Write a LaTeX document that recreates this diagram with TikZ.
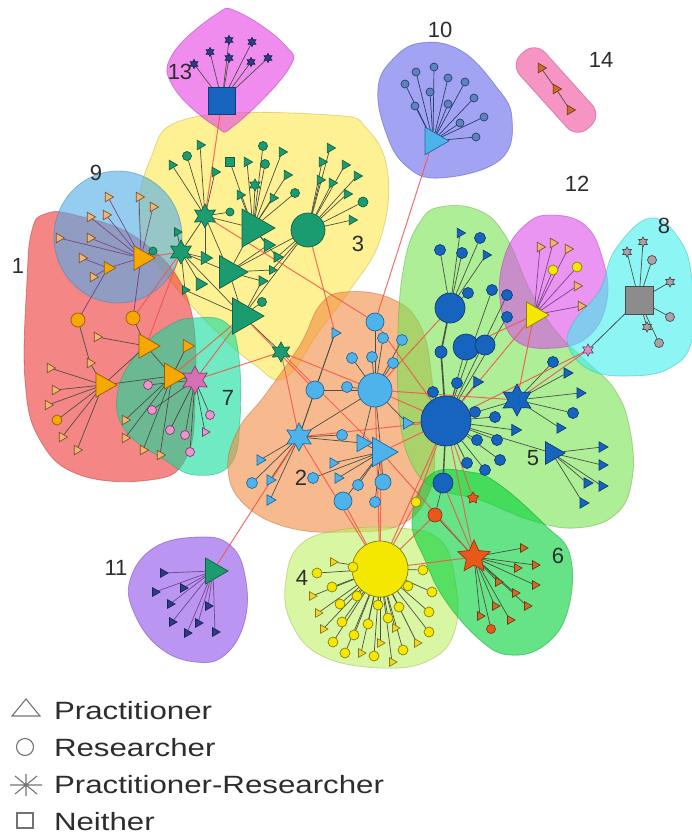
\documentclass[tikz,border=0pt]{standalone}
\usepackage{fontspec}
\setmainfont{Liberation Sans}
\usepackage{graphicx}
\usetikzlibrary{shapes.geometric}
\pgfdeclarelayer{blobs}
\pgfdeclarelayer{edges}
\pgfsetlayers{blobs,edges,main}
% node colours
\definecolor{cG}{RGB}{27,155,112}\definecolor{cGd}{RGB}{20,95,70}
\definecolor{cLB}{RGB}{77,179,234}\definecolor{cLBd}{RGB}{35,105,155}
\definecolor{cB}{RGB}{22,100,190}\definecolor{cBd}{RGB}{15,60,120}
\definecolor{cO}{RGB}{246,168,0}\definecolor{cOd}{RGB}{140,95,20}
\definecolor{cY}{RGB}{245,232,0}\definecolor{cYd}{RGB}{135,125,20}
\definecolor{cR}{RGB}{232,88,26}\definecolor{cRd}{RGB}{150,50,20}
\definecolor{cP}{RGB}{216,110,180}\definecolor{cPd}{RGB}{130,60,110}
\definecolor{cPl}{RGB}{232,150,205}
\definecolor{cGr}{RGB}{140,140,140}\definecolor{cGrd}{RGB}{75,75,75}
\definecolor{cGrl}{RGB}{175,160,165}
\definecolor{cTan}{RGB}{238,182,112}\definecolor{cTand}{RGB}{130,80,40}
\definecolor{cNv}{RGB}{45,60,135}\definecolor{cNvd}{RGB}{25,35,80}
\definecolor{cSl}{RGB}{95,130,190}\definecolor{cSld}{RGB}{40,60,110}
\definecolor{cBr}{RGB}{205,110,40}\definecolor{cBrd}{RGB}{115,55,20}
\definecolor{cStp}{RGB}{205,150,185}
% blob colours
\definecolor{b13}{RGB}{232,63,229}
\definecolor{b3}{RGB}{252,232,75}
\definecolor{b9}{RGB}{78,171,232}
\definecolor{b1}{RGB}{238,54,54}
\definecolor{b7}{RGB}{17,220,155}
\definecolor{b2}{RGB}{242,140,66}
\definecolor{b4}{RGB}{192,240,100}
\definecolor{b6}{RGB}{0,208,54}
\definecolor{b5}{RGB}{118,226,82}
\definecolor{b12}{RGB}{220,78,232}
\definecolor{b8}{RGB}{66,238,238}
\definecolor{b10}{RGB}{102,102,235}
\definecolor{b14}{RGB}{240,78,155}
\definecolor{b11}{RGB}{140,78,232}
\definecolor{cE}{RGB}{75,80,65}
\definecolor{cX}{RGB}{240,85,75}
\definecolor{cPu}{RGB}{120,70,140}
\definecolor{cLg}{RGB}{115,115,115}
\definecolor{cTx}{RGB}{45,45,45}
\tikzset{
  every node/.style={inner sep=0pt, outer sep=0pt, line width=0.7pt},
  ntri/.style={regular polygon, regular polygon sides=3, shape border rotate=-90, minimum size=#1},
  ncirc/.style={circle, minimum size=#1},
  nsq/.style={rectangle, minimum size=#1},
  nstar/.style={star, star points=6, star point ratio=1.8, minimum size=#1},
  colG/.style={fill=cG, draw=cGd},
  colLB/.style={fill=cLB, draw=cLBd},
  colB/.style={fill=cB, draw=cBd},
  colO/.style={fill=cO, draw=cOd},
  colY/.style={fill=cY, draw=cYd},
  colYt/.style={fill=cY!60!cTan, draw=cYd},
  colR/.style={fill=cR, draw=cRd},
  colP/.style={fill=cP, draw=cPd},
  colPl/.style={fill=cPl, draw=cPd},
  colGr/.style={fill=cGr, draw=cGrd},
  colGrl/.style={fill=cGrl, draw=cGrd},
  colTan/.style={fill=cTan, draw=cTand},
  colNv/.style={fill=cNv, draw=cNvd},
  colSl/.style={fill=cSl, draw=cSld},
  colBr/.style={fill=cBr, draw=cBrd},
  lnk/.style={draw=cE, line width=0.7pt},
  plnk/.style={draw=cPu, line width=0.7pt},
  slnk/.style={draw=cSld, line width=0.7pt},
  xlnk/.style={draw=cX, line width=1pt, draw opacity=0.85},
  blob/.style={fill=#1, fill opacity=0.6, draw=#1!75!black, draw opacity=0.45, line width=0.8pt},
  lbl/.style={font=\fontsize{22}{26}\selectfont, text=cTx},
  ltxt/.style={anchor=base west, font=\fontsize{25}{30}\selectfont, text=cTx},
  lgsym/.style={draw=cLg, line width=1.1pt},
}
% fan: links from hub #2 to leaves #3<1..#4>, style #1
\newcommand\fan[4][lnk]{\foreach \k in {1,...,#4} {\draw[#1] (#2) -- (#3\k);}}
\begin{document}
\begin{tikzpicture}[x=1pt,y=-1pt]
\useasboundingbox (0,0) rectangle (692,840);
% ---------------- blobs
\begin{pgfonlayer}{blobs}
\path[blob=b3] plot[smooth cycle,tension=0.7] coordinates {(190,118)(330,115)(368,130)(388,175)(380,240)(350,290)(320,330)(285,378)(255,365)(215,330)(170,280)(140,230)(150,160)};
\path[blob=b1] plot[smooth cycle,tension=0.7] coordinates {(45,214)(75,215)(140,240)(188,300)(195,400)(185,460)(150,480)(80,475)(40,440)(25,380)(27,280)(32,230)};
\path[blob=b9] (118,237) ellipse [x radius=64, y radius=66];
\path[blob=b7] plot[smooth cycle,tension=0.7] coordinates {(195,318)(225,322)(238,350)(240,420)(230,465)(195,475)(165,460)(125,430)(118,390)(140,350)(170,325)};
\path[blob=b2] plot[smooth cycle,tension=0.7] coordinates {(345,292)(390,298)(420,325)(432,380)(435,450)(428,495)(400,525)(350,532)(290,528)(245,505)(228,470)(238,430)(265,395)(300,345)(320,305)};
\path[blob=b5] plot[smooth cycle,tension=0.7] coordinates {(440,207)(478,210)(505,235)(530,290)(555,330)(585,360)(615,390)(630,430)(632,480)(615,515)(575,528)(530,520)(480,500)(440,490)(415,470)(400,420)(398,330)(405,260)(420,222)};
\path[blob=b4] plot[smooth cycle,tension=0.7] coordinates {(300,545)(340,530)(400,528)(440,540)(455,580)(455,630)(430,660)(380,668)(320,655)(290,620)(286,580)};
\path[blob=b6] plot[smooth cycle,tension=0.7] coordinates {(430,475)(470,472)(500,485)(545,525)(570,555)(568,610)(545,645)(510,655)(480,640)(445,600)(425,560)(412,520)};
\path[blob=b12] plot[smooth cycle,tension=0.7] coordinates {(550,215)(585,225)(603,260)(607,300)(590,335)(555,348)(515,340)(500,300)(505,255)(525,225)};
\path[blob=b8] plot[smooth cycle,tension=0.7] coordinates {(650,218)(680,240)(692,280)(692,340)(670,368)(630,376)(590,370)(568,345)(575,320)(600,290)(615,250)};
\path[blob=b10] plot[smooth cycle,tension=0.7] coordinates {(420,43)(460,50)(495,85)(512,118)(500,160)(440,178)(405,165)(385,130)(378,88)(392,60)};
\path[blob=b13] plot[smooth cycle,tension=0.7] coordinates {(238,12)(285,45)(288,70)(235,125)(215,126)(174,88)(172,55)(215,15)};
\path[blob=b14, shift={(556,90)}, rotate=-48, rounded corners=15] (-50,-17) rectangle (50,17);
\path[blob=b11] plot[smooth cycle,tension=0.7] coordinates {(200,537)(230,545)(245,575)(245,620)(225,655)(195,662)(160,648)(135,615)(130,580)(155,547)};
\end{pgfonlayer}
% ================= NODES
% cluster 13
\node[nsq=27, colB] (q13) at (222,101) {};
\foreach \x/\y [count=\i] in {210/52,229/40,252/42,229/58,251/62,268/58,194/64}
  {\node[nstar=9,colNv] (q13L\i) at (\x,\y) {};}
% cluster 10
\node[ntri=32, colLB] (t10) at (433,141) {};
\foreach \x/\y [count=\i] in {405/84,416/72,434/67,448/78,465/82,474/98,484/117,476/137,430/92,448/104,415/106,460/123}
  {\node[ncirc=8,colSl] (t10L\i) at (\x,\y) {};}
% cluster 14
\node[ntri=11, colBr] (n14a) at (541,68) {};
\node[ntri=11, colBr] (n14b) at (556,89) {};
\node[ntri=11, colBr] (n14c) at (570,110) {};
% cluster 12
\node[ntri=30, colY] (t12) at (534,315) {};
\foreach \x/\y [count=\i] in {540/247,553/243,568/249,577/286,581/306}
  {\node[ntri=11,colTan] (t12T\i) at (\x,\y) {};}
\foreach \x/\y [count=\i] in {553/270,577/267}
  {\node[ncirc=10,colY] (t12C\i) at (\x,\y) {};}
% cluster 8
\node[nsq=28, colGr] (q8) at (639,300) {};
\foreach \x/\y [count=\i] in {627/252,643/242,670/282,647/327}
  {\node[nstar=10,colGrl] (q8S\i) at (\x,\y) {};}
\foreach \x/\y [count=\i] in {652/260,670/317,659/343}
  {\node[ncirc=9,colGrl] (q8C\i) at (\x,\y) {};}
\node[nstar=12, fill=cStp, draw=cPd] (st8) at (588,350) {};
% cluster 3
\node[nstar=24, colG] (s3a) at (205,216) {};
\node[nstar=24, colG] (s3b) at (181,252) {};
\node[ntri=44, colG] (t3a) at (253,228) {};
\node[ncirc=34, colG] (c3) at (308,230) {};
\node[ntri=38, colG] (t3b) at (229,272) {};
\node[ntri=42, colG] (t3c) at (243,316) {};
\node[nstar=20, colG] (s3c) at (281,352) {};
\node[ntri=15, colG] (m3a) at (205,258) {};
\node[ntri=15, colG] (m3b) at (200,284) {};
\node[ntri=15, colG] (m3c) at (268,245) {};
\node[ntri=12, colG] (m3d) at (277,257) {};
\node[ntri=12, colG] (m3e) at (262,281) {};
\node[ncirc=8, colG] (m3f) at (230,212) {};
\node[ncirc=9, colG] (m3g) at (262,302) {};
\node[ntri=10, colG] (m3h) at (177,232) {};
\node[ntri=10, colG] (m3i) at (185,290) {};
\node[ntri=10, colG] (m3j) at (272,270) {};
\foreach \x/\y [count=\i] in {172/165,200/145,215/172}
  {\node[ntri=11,colG] (s3aT\i) at (\x,\y) {};}
\node[ncirc=9,colG] (s3aC) at (187,156) {};
\foreach \x/\y [count=\i] in {247/162,282/152,287/175,273/198,240/195}
  {\node[ntri=11,colG] (t3aT\i) at (\x,\y) {};}
\foreach \x/\y [count=\i] in {263/146,265/164,295/193}
  {\node[ncirc=9,colG] (t3aC\i) at (\x,\y) {};}
\node[nsq=9,colG] (t3aQ) at (230,162) {};
\node[nstar=12,colG] (t3aS) at (255,185) {};
\foreach \x/\y [count=\i] in {330/148,322/162,345/165,332/183,357/176,347/194,352/220,320/180}
  {\node[ntri=11,colG] (c3T\i) at (\x,\y) {};}
\node[ncirc=10,colG] (c3C) at (363,202) {};
% cluster 9
\node[ntri=28, colO] (t9) at (141,258) {};
\node[ntri=15, colO] (t9b) at (108,268) {};
\foreach \x/\y [count=\i] in {108/197,139/197,153/207,90/217,106/215,59/238,90/238}
  {\node[ntri=11,colTan] (t9T\i) at (\x,\y) {};}
\foreach \x/\y [count=\i] in {82/258,93/277}
  {\node[ntri=11,colTan] (t9bT\i) at (\x,\y) {};}
\node[ncirc=8,colG] (t9C) at (153,251) {};
% cluster 1
\node[ncirc=14, colO] (c1a) at (78,320) {};
\node[ncirc=14, colO] (c1b) at (133,318) {};
\node[ntri=28, colO] (t1a) at (146,346) {};
\node[ntri=28, colO] (t1b) at (103,385) {};
\node[ntri=30, colO] (t1c) at (172,376) {};
\node[ntri=15, colO] (t1d) at (187,346) {};
\node[ntri=11,colTan] (t1aT) at (97,337) {};
\node[ntri=11,colTan] (t1bM) at (90,363) {};
\foreach \x/\y [count=\i] in {50/368,55/390,48/405,62/437,77/450}
  {\node[ntri=11,colTan] (t1bT\i) at (\x,\y) {};}
\node[ncirc=10,colO] (t1bC) at (57,420) {};
% cluster 7
\node[nstar=28, colP] (s7) at (195,380) {};
\foreach \x/\y [count=\i] in {148/385,152/410,170/430,185/435,190/452,210/415}
  {\node[ncirc=9,colPl] (s7C\i) at (\x,\y) {};}
\node[ntri=10,colPl] (s7T) at (205,432) {};
\foreach \x/\y [count=\i] in {125/420,125/438,143/450,160/455}
  {\node[ntri=11,colTan] (t1cT\i) at (\x,\y) {};}
% cluster 11
\node[ntri=30, colG] (t11) at (213,571) {};
\foreach \x/\y [count=\i] in {163/573,155/592,183/588,170/604,172/622,187/633,198/623,215/632,208/606}
  {\node[ntri=10,colNv] (t11L\i) at (\x,\y) {};}
% cluster 2
\node[nstar=28, colLB] (s2) at (299,437) {};
\node[ncirc=34, colLB] (c2) at (375,390) {};
\node[ntri=34, colLB] (t2a) at (381,452) {};
\node[ntri=20, colLB] (t2b) at (362,443) {};
\node[ncirc=18, colLB] (c2a) at (375,322) {};
\node[ncirc=18, colLB] (c2b) at (315,390) {};
\node[ncirc=18, colLB] (c2c) at (343,501) {};
\node[ncirc=16, colLB] (c2d) at (383,482) {};
\node[ntri=12, colLB] (c2t1) at (335,333) {};
\node[ntri=14, colLB] (c2t2) at (407,423) {};
\foreach \x/\y [count=\i] in {383/338,402/340,352/358,372/357,347/387,393/363}
  {\node[ncirc=11,colLB] (c2L\i) at (\x,\y) {};}
\foreach \x/\y [count=\i] in {260/460,270/480,270/500}
  {\node[ntri=12,colLB] (s2T\i) at (\x,\y) {};}
\foreach \x/\y [count=\i] in {252/483,342/435}
  {\node[ncirc=11,colLB] (s2C\i) at (\x,\y) {};}
\foreach \x/\y [count=\i] in {333/463,338/478}
  {\node[ntri=12,colLB] (t2aT\i) at (\x,\y) {};}
\foreach \x/\y [count=\i] in {358/485,375/502,313/478}
  {\node[ncirc=11,colLB] (t2aC\i) at (\x,\y) {};}
% cluster 5
\node[ncirc=50, colB] (h5) at (446,421) {};
\node[ncirc=30, colB] (c5a) at (450,308) {};
\node[ncirc=26, colB] (c5b) at (466,347) {};
\node[ncirc=20, colB] (c5c) at (485,345) {};
\node[ncirc=20, colB] (c5d) at (443,483) {};
\node[ncirc=12, colB] (c5e) at (441,352) {};
\node[nstar=32, colB] (s5) at (517,400) {};
\node[ntri=26, colB] (t5) at (552,453) {};
\foreach \x/\y [count=\i] in {440/250,462/253,480/238,468/293}
  {\node[ncirc=11,colB] (c5aC\i) at (\x,\y) {};}
\foreach \x/\y [count=\i] in {460/233,486/255}
  {\node[ntri=11,colB] (c5aT\i) at (\x,\y) {};}
\foreach \x/\y [count=\i] in {492/290,507/295,507/317,457/383,433/392,475/412,495/417,477/440,497/440,467/463,485/470,500/460}
  {\node[ncirc=11,colB] (h5C\i) at (\x,\y) {};}
\foreach \x/\y [count=\i] in {477/382,515/430}
  {\node[ntri=13,colB] (h5T\i) at (\x,\y) {};}
\foreach \x/\y [count=\i] in {553/362,573/413}
  {\node[ncirc=11,colB] (s5C\i) at (\x,\y) {};}
\foreach \x/\y [count=\i] in {567/373,580/393,560/428}
  {\node[ntri=12,colB] (s5T\i) at (\x,\y) {};}
\foreach \x/\y [count=\i] in {602/447,602/465,587/483,602/486,583/503}
  {\node[ntri=12,colB] (t5T\i) at (\x,\y) {};}
% cluster 4
\node[ncirc=56, colY] (c4) at (380,569) {};
\foreach \x/\y [count=\i] in {353/567,317/573,332/587,357/596,340/604,378/605,342/622,368/624,399/607,408/586,423/570,432/592,429/612,429/632,333/642,354/635,345/653,374/656,403/650,388/618}
  {\node[ncirc=10,colY] (c4C\i) at (\x,\y) {};}
\foreach \x/\y [count=\i] in {333/562,312/596,318/613,417/643,323/629,361/653,392/662,380/643,395/628}
  {\node[ntri=10,colYt] (c4T\i) at (\x,\y) {};}
% cluster 6
\node[nstar=34, star points=5, star point ratio=2.1, colR] (s6) at (474,557) {};
\node[ncirc=14, colR] (c6a) at (435,515) {};
\node[nstar=12, star points=5, colR] (s6b) at (473,498) {};
\node[ncirc=10, colY] (c6y) at (416,502) {};
\foreach \x/\y [count=\i] in {523/548,535/565,517/568,535/585,498/582,515/593,527/606,495/606,510/620,480/616}
  {\node[ntri=10,colBr] (s6T\i) at (\x,\y) {};}
\node[ncirc=9,colR] (s6C) at (491,629) {};
% ================= LINKS (drawn on the layer below the nodes)
\begin{pgfonlayer}{edges}
\fan{q13}{q13L}{7}
\fan[slnk]{t10}{t10L}{12}
\draw[lnk] (n14a) -- (n14b) -- (n14c);
\fan[plnk]{t12}{t12T}{5}\fan[plnk]{t12}{t12C}{2}
\fan{q8}{q8S}{4}\fan{q8}{q8C}{3}
\draw[draw=cGrd, line width=0.8pt] (q8) -- (st8);
% cluster 3
\foreach \a/\b in {s3a/t3a,s3a/t3b,s3a/s3b,s3b/t3b,s3b/t3c,t3a/t3b,t3b/t3c,t3b/c3,t3c/s3c,t3c/c3,
  s3a/m3a,s3b/m3a,s3b/m3b,t3b/m3c,t3a/m3c,t3a/m3d,t3b/m3e,t3c/m3e,t3c/m3g,s3a/m3f,
  s3b/m3h,s3b/m3i,t3c/m3i,c3/m3d,c3/m3j,t3b/m3j,s3a/s3aC,t3a/t3aQ,t3a/t3aS,c3/c3C}
  {\draw[lnk] (\a) -- (\b);}
\fan{s3a}{s3aT}{3}\fan{t3a}{t3aT}{5}\fan{t3a}{t3aC}{3}\fan{c3}{c3T}{8}
% cluster 9 and 1
\fan[plnk]{t9}{t9T}{7}\fan[plnk]{t9b}{t9bT}{2}
\draw[plnk] (t9) -- (t9b);
\draw[plnk] (t9) -- (t9C);
\draw[plnk, line width=0.8pt] (t9b) -- (c1a);
\draw[plnk, line width=0.8pt] (t9) -- (c1b);
\foreach \a/\b in {c1b/t1a,t1a/t1b,t1a/t1c,t1b/t1c,t1d/t1c,t1a/t1aT,c1a/t1bM,t1bM/t1b,t1b/t1bC,t1c/s7,s7/s7T}
  {\draw[lnk] (\a) -- (\b);}
\fan{t1b}{t1bT}{5}\fan{s7}{s7C}{6}\fan{t1c}{t1cT}{4}
% cluster 11
\fan[plnk]{t11}{t11L}{9}
% cluster 2
\foreach \a/\b in {c2/c2a,c2/c2b,c2/t2a,c2/t2b,c2/s2,s2/c2b,s2/t2b,s2/c2t1,t2a/t2b,t2a/c2c,t2a/c2d,c2t1/c2b,c2/c2t2}
  {\draw[lnk] (\a) -- (\b);}
\fan{c2}{c2L}{6}\fan{s2}{s2T}{3}\fan{s2}{s2C}{2}\fan{t2a}{t2aT}{2}\fan{t2a}{t2aC}{3}
% cluster 5
\draw[lnk, line width=1.6pt] (h5) -- (c5e) -- (c5a);
\draw[lnk, line width=1.4pt] (h5) -- (c5d);
\foreach \a/\b in {h5/c5b,c5b/c5c,h5/s5,h5/t5}
  {\draw[lnk] (\a) -- (\b);}
\fan{c5a}{c5aC}{4}\fan{c5a}{c5aT}{2}\fan{h5}{h5C}{12}\fan{h5}{h5T}{2}
\fan{s5}{s5C}{2}\fan{s5}{s5T}{3}\fan{t5}{t5T}{5}
% cluster 4 and 6
\fan{c4}{c4C}{20}\fan{c4}{c4T}{9}
\draw[lnk] (s6) -- (c6a) -- (c5d);
\fan{s6}{s6T}{10}
\draw[lnk] (s6) -- (s6C);
% inter-cluster links
\foreach \a/\b in {q13/s3a,t10/c2a,t11/s2,c3/c2t1,s3c/s2,s3c/c2,s3c/t2a,t9/s3b,c1b/s3b,t1c/t3c,
  s7/t3c,s7/s3c,t1a/s3b,s3a/c2a,t3c/c2b,c2/h5,t2a/h5,c2t2/h5,c2a/h5,c5a/c2,s5/c2,s2/h5,
  c4/s2,c4/c2,c4/t2a,c4/h5,c4/s6,c4/c6a,c4/c2c,c4/c6y,s6/h5,s6/c5d,s6/t2a,s6b/h5,c6y/h5,
  t12/h5,t12/s5,t12/c5b,st8/s5,st8/h5}
  {\draw[xlnk] (\a) -- (\b);}
\end{pgfonlayer}
% ---------------- cluster labels
\node[lbl] (L1) at (18,266) {1};
\node[lbl] (L2) at (301,478) {2};
\node[lbl] (L3) at (358,244) {3};
\node[lbl] (L4) at (302,578) {4};
\node[lbl] (L5) at (533,458) {5};
\node[lbl] (L6) at (558,556) {6};
\node[lbl] (L7) at (228,398) {7};
\node[lbl] (L8) at (664,226) {8};
\node[lbl] (L9) at (96,173) {9};
\node[lbl] (L10) at (440,30) {10};
\node[lbl] (L11) at (116,568) {11};
\node[lbl] (L12) at (577,184) {12};
\node[lbl] (L13) at (180,72) {13};
\node[lbl] (L14) at (601,60) {14};
% ---------------- legend
\draw[lgsym] (12,716) -- (40,716) -- (26,699) -- cycle;
\draw[lgsym] (25,747) circle [radius=8.5];
\draw[lgsym] (10,785) -- (42,785) (26,774) -- (26,796) (15,776) -- (37,794) (15,794) -- (37,776);
\draw[lgsym] (17,813) rectangle (33,828);
\node[ltxt] (G1) at (54,719) {\scalebox{1.25}[1]{Practitioner}};
\node[ltxt] (G2) at (54,756) {\scalebox{1.25}[1]{Researcher}};
\node[ltxt] (G3) at (54,793) {\scalebox{1.25}[1]{Practitioner-Researcher}};
\node[ltxt] (G4) at (54,830) {\scalebox{1.25}[1]{Neither}};
\end{tikzpicture}
\end{document}
